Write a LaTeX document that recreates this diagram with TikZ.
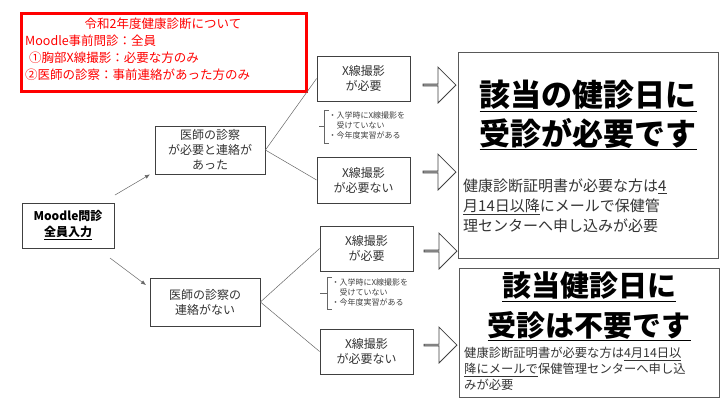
\documentclass[tikz,border=0pt]{standalone}
\usepackage{fontspec}
\setmainfont{Noto Sans CJK JP}
\usetikzlibrary{arrows.meta,shapes.arrows}
\begin{document}
\begin{tikzpicture}[x=1pt,y=-1pt,
  box/.style={draw=black!75,line width=0.8pt,inner sep=0pt,align=center,font=\fontsize{12}{15}\selectfont,text=black!80},
  ln/.style={draw=black!60,line width=0.5pt},
  arr/.style={ln,-{Latex[length=5pt,width=4pt]}},
  blk/.style={single arrow,draw=black!75,line width=0.8pt,fill=white,minimum width=36pt,minimum height=33pt,single arrow head extend=8pt,single arrow tip angle=90,inner sep=0pt},
  note/.style={font=\fontsize{8}{10}\selectfont,text=black!75,align=left,anchor=west}]
\useasboundingbox (0,0) rectangle (728,405);
% red box
\node[draw=red,line width=3pt,minimum width=285pt,minimum height=78pt,anchor=north west] (red) at (20,12) {};
\node[text=red,font=\fontsize{12.5}{15}\selectfont] (r1) at (163,24) {令和2年度健康診断について};
\node[text=red,font=\fontsize{12.5}{15}\selectfont,anchor=west,inner sep=0pt] (r2) at (25,41) {Moodle事前問診：全員};
\node[text=red,font=\fontsize{12.5}{15}\selectfont,anchor=west,inner sep=0pt] (r3) at (29,58) {①胸部X線撮影：必要な方のみ};
\node[text=red,font=\fontsize{12.5}{15}\selectfont,anchor=west,inner sep=0pt] (r4) at (25,75) {②医師の診察：事前連絡があった方のみ};
% left boxes
\node[box,minimum width=92pt,minimum height=45pt,font=\bfseries\fontsize{12}{16}\selectfont,text=black] (m) at (68,225.5) {Moodle問診\\\underline{全員入力}};
\node[box,minimum width=110pt,minimum height=48pt] (d1) at (210,150) {医師の診察\\が必要と連絡が\\あった};
\node[box,minimum width=110pt,minimum height=48pt] (d2) at (205,302) {医師の診察の\\連絡がない};
\node[box,minimum width=93pt,minimum height=45pt] (x1) at (363.5,78.5) {X線撮影\\が必要};
\node[box,minimum width=93pt,minimum height=46pt] (x2) at (363.5,180) {X線撮影\\が必要ない};
\node[box,minimum width=93pt,minimum height=45pt] (x3) at (366.5,248.5) {X線撮影\\が必要};
\node[box,minimum width=93pt,minimum height=45pt] (x4) at (366.5,351.5) {X線撮影\\が必要ない};
\coordinate (ma) at (115,195); \coordinate (mb) at (110,258);
\draw[arr] (ma) -- (d1.south west -| 150,156);
\draw[arr] (mb) -- (146,285);
\draw[ln] (d1.east) -- (x1.west); \draw[ln] (d1.east) -- (x2.west);
\draw[ln] (d2.east) -- (x3.west); \draw[ln] (d2.east) -- (x4.west);
% notes
\node[note] (n1) at (325,125) {・入学時にX線撮影を\\\hphantom{・}受けていない\\・今年度実習がある};
\draw[ln] (329,110) -| (324,143) -- (329,143); \draw[ln] (319,126) -- (324,126);
\node[note] (n2) at (328,292) {・入学時にX線撮影を\\\hphantom{・}受けていない\\・今年度実習がある};
\draw[ln] (332,277) -| (327,309) -- (332,309); \draw[ln] (320,293) -- (327,293);
% block arrows
\node[blk] (b1) at (439,85) {};
\node[blk] (b2) at (439,172) {};
\node[blk] (b3) at (440,251) {};
\node[blk] (b4) at (440,345) {};
% result boxes
\node[draw=black!65,line width=0.8pt,minimum width=260pt,minimum height=206pt,anchor=north west] (t) at (458,52) {};
\node[font=\bfseries\fontsize{31}{36}\selectfont,inner sep=0pt] (t1) at (588,96) {\underline{該当の健診日に}};
\node[font=\bfseries\fontsize{31}{36}\selectfont,inner sep=0pt] (t2) at (588,134) {\underline{受診が必要です}};
\node[font=\fontsize{15}{20}\selectfont,text=black!80,align=left,anchor=north west,inner sep=0pt] (t3) at (463,179) {健康診断証明書が必要な方は\underline{4}\\\underline{月14日以降}にメールで保健管\\理センターへ申し込みが必要};
\node[draw=black!65,line width=0.8pt,minimum width=260pt,minimum height=129pt,anchor=north west] (u) at (459,268) {};
\node[font=\bfseries\fontsize{29}{34}\selectfont,inner sep=0pt] (u1) at (589,287) {\underline{該当健診日に}};
\node[font=\bfseries\fontsize{29}{34}\selectfont,inner sep=0pt] (u2) at (589,326) {\underline{受診は不要です}};
\node[font=\fontsize{12.3}{16}\selectfont,text=black!80,align=left,anchor=north west,inner sep=0pt] (u3) at (464,347) {健康診断証明書が必要な方は\underline{4月14日以}\\\underline{降にメールで}保健管理センターへ申し込\\みが必要};
\end{tikzpicture}
\end{document}
